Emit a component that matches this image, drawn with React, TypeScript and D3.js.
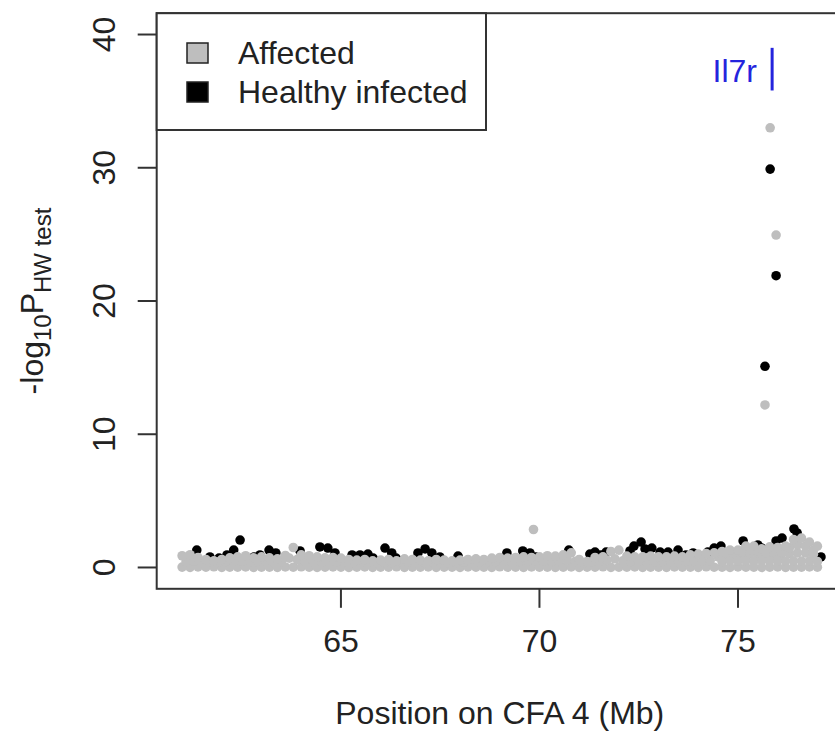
import React from 'react';
import * as d3 from 'd3';

const W = 835;
const H = 744;

// Axis definitions
const xDomain = [60.36, 77.64];
const yDomain = [-1.6, 41.6];
const xTicks = [65, 70, 75];
const yTicks = [0, 10, 20, 30, 40];
const xTitle = 'Position on CFA 4 (Mb)';
const legendLabels = ['Affected', 'Healthy infected'];
const geneLabel = 'Il7r';
const genePos = 75.86;
const geneSpan = [35.8, 39.0];

// Affected (grey) SNP positions and -log10 P values
const snpPos = [61.0,61.2,61.4,61.6,61.8,62.0,62.2,62.4,62.6,62.8,63.0,63.2,63.4,63.6,63.8,64.0,64.2,64.4,64.6,64.8,65.0,65.2,65.4,65.6,65.8,66.0,66.2,66.4,66.6,66.8,67.0,67.2,67.4,67.6,67.8,68.0,68.2,68.4,68.6,68.8,69.0,69.2,69.4,69.6,69.8,70.0,70.2,70.4,70.6,70.8,71.0,71.2,71.4,71.6,71.8,72.0,72.2,72.4,72.6,72.8,73.0,73.2,73.4,73.6,73.8,74.0,74.2,74.4,74.6,74.8,75.0,75.2,75.4,75.6,75.8,76.0,76.2,76.4,76.6,76.8,77.0];
const affectedTop = [0.88,0.96,0.75,0.6,0.5,0.6,0.72,0.8,0.88,0.72,0.8,0.72,0.65,0.9,1.5,0.95,0.88,0.8,0.72,0.75,0.7,0.6,0.55,0.6,0.5,0.55,0.6,0.5,0.65,0.6,0.55,0.5,0.6,0.55,0.5,0.55,0.6,0.65,0.6,0.7,0.75,0.7,0.75,0.8,0.75,0.8,0.88,0.85,0.95,1.1,0.6,0.45,0.75,0.8,1.2,1.3,0.85,0.8,0.8,0.85,0.8,0.8,0.85,0.8,0.95,1.0,1.05,1.1,1.2,1.3,1.3,1.6,1.6,1.4,1.55,1.5,1.6,2.1,2.2,1.9,1.6];
const affectedFloor = [0.03,0.01,0.04,0.02,0.05,0.01,0.03,0.02,0.04,0.01,0.02,0.03,0.01,0.04,0.02,0.05,0.03,0.01,0.02,0.04,0.03,0.01,0.02,0.04,0.01,0.03,0.02,0.05,0.01,0.03,0.02,0.04,0.01,0.03,0.02,0.01,0.04,0.02,0.03,0.01,0.05,0.02,0.03,0.01,0.04,0.02,0.03,0.01,0.02,0.04,0.01,0.03,0.02,0.05,0.01,0.03,0.02,0.04,0.01,0.02,0.03,0.01,0.04,0.02,0.03,0.01,0.05,0.02,0.03,0.01,0.04,0.02,0.03,0.01,0.02,0.04,0.01,0.03,0.02,0.04,0.02];
const snpPosMid = [61.1,61.3,61.5,61.7,61.9,62.1,62.3,62.5,62.7,62.9,63.1,63.3,63.5,63.7,63.9,64.1,64.3,64.5,64.7,64.9,65.1,65.3,65.5,65.7,65.9,66.1,66.3,66.5,66.7,66.9,67.1,67.3,67.5,67.7,67.9,68.1,68.3,68.5,68.7,68.9,69.1,69.3,69.5,69.7,69.9,70.1,70.3,70.5,70.7,70.9,71.1,71.3,71.5,71.7,71.9,72.1,72.3,72.5,72.7,72.9,73.1,73.3,73.5,73.7,73.9,74.1,74.3,74.5,74.7,74.9,75.1,75.3,75.5,75.7,75.9,76.1,76.3,76.5,76.7,76.9];
const affectedMid = [0.45,0.48,0.42,0.4,0.4,0.44,0.46,0.48,0.45,0.44,0.45,0.42,0.44,0.7,0.6,0.47,0.45,0.43,0.45,0.44,0.4,0.38,0.4,0.36,0.36,0.38,0.36,0.4,0.4,0.37,0.36,0.38,0.38,0.36,0.37,0.4,0.42,0.42,0.44,0.45,0.44,0.45,0.46,0.45,0.47,0.48,0.46,0.5,0.55,0.45,0.35,0.4,0.45,0.55,0.65,0.5,0.45,0.44,0.46,0.45,0.44,0.46,0.45,0.47,0.48,0.5,0.52,0.8,0.85,0.9,0.95,1.0,0.95,0.95,1.0,1.0,1.05,1.1,1.1,1.0];
const affectedLowerPos = [74.6,74.8,75.0,75.2,75.4,75.6,75.8,76.0,76.2,76.4,76.6,76.8,77.0];
const affectedLowerVal = [0.45,0.5,0.48,0.5,0.46,0.5,0.48,0.5,0.47,0.5,0.48,0.5,0.45];
const affectedUpperPos = [75.1,75.3,75.5,75.7,75.9,76.1,76.3,76.5,76.7,76.9];
const affectedUpperVal = [1.2,1.3,1.25,1.1,1.2,1.2,1.5,1.7,1.6,1.3];
const affectedHitPos = [69.85, 75.81, 75.96, 75.68];
const affectedHitVal = [2.85, 33.0, 24.95, 12.2];

// Healthy infected (black) SNPs that rise above the grey band
const healthyPos = [61.37,61.70,61.93,62.13,62.30,62.46,62.81,62.96,63.19,63.36,63.97,64.47,64.67,64.85,65.28,65.48,65.68,65.81,66.11,66.28,66.39,66.94,67.12,67.29,67.49,67.95,69.18,69.58,69.76,69.91,70.74,71.27,71.40,71.55,71.68,72.28,72.38,72.56,72.66,72.83,73.04,73.24,73.49,73.69,73.87,74.24,74.40,74.57,75.13,75.50,75.60,75.96,76.11,76.41,76.49,77.09,75.81,75.96,75.68];
const healthyVal = [1.31,0.79,0.71,0.94,1.31,2.06,0.79,0.94,1.31,1.09,1.24,1.54,1.46,1.09,0.94,0.94,1.01,0.71,1.46,1.09,0.71,1.09,1.39,1.09,0.79,0.86,1.09,1.24,1.09,0.79,1.31,1.01,1.16,0.94,1.16,1.24,1.61,1.91,1.39,1.46,1.16,1.16,1.31,0.94,1.09,1.16,1.46,1.61,1.99,1.69,1.46,1.99,2.21,2.89,2.59,0.79,29.9,21.9,15.1];

const FONT = '"Liberation Sans", Arial, Helvetica, sans-serif';
const GREY = '#bebebe';
const AXIS = '#333333';
const R = 4.8;

function zipPts(pos: number[], val: number[]) {
  return pos.map((p, i) => [p, val[i]] as [number, number]);
}

export default function App() {
  const x = d3.scaleLinear().domain(xDomain).range([156.7, 842.8]);
  const y = d3.scaleLinear().domain(yDomain).range([588.8, 13.2]);
  const [x0, x1] = x.range();
  const [yb, yt] = y.range();

  const healthy = zipPts(healthyPos, healthyVal);
  const affected = [
    ...zipPts(snpPos, affectedFloor),
    ...zipPts(snpPosMid, affectedMid),
    ...zipPts(affectedLowerPos, affectedLowerVal),
    ...zipPts(affectedUpperPos, affectedUpperVal),
    ...zipPts(snpPos, affectedTop),
    ...zipPts(affectedHitPos, affectedHitVal),
  ];

  const tickLen = 19;

  return (
    <svg width={W} height={H} style={{ position: 'absolute', left: 0, top: 0, background: '#fff' }}
      fontFamily={FONT}>
      <rect x={0} y={0} width={W} height={H} fill="#fff" />
      {/* points */}
      <g>
        {healthy.map(([p, v], i) => (
          <circle key={'h' + i} cx={x(p)} cy={y(v)} r={R} fill="#000" />
        ))}
        {affected.map(([p, v], i) => (
          <circle key={'a' + i} cx={x(p)} cy={y(v)} r={R} fill={GREY} />
        ))}
      </g>
      {/* plot box */}
      <rect x={x0} y={yt} width={x1 - x0} height={yb - yt} fill="none" stroke={AXIS} strokeWidth={2} />
      {/* y axis */}
      <g>
        {yTicks.map(t => (
          <g key={'yt' + t}>
            <line x1={x0 - tickLen} x2={x0} y1={y(t)} y2={y(t)} stroke={AXIS} strokeWidth={2} />
            <text transform={`translate(115,${y(t)}) rotate(-90)`} textAnchor="middle" fontSize={32} fill="#222">{t}</text>
          </g>
        ))}
      </g>
      {/* x axis */}
      <g>
        {xTicks.map(t => (
          <g key={'xt' + t}>
            <line x1={x(t)} x2={x(t)} y1={yb} y2={yb + tickLen} stroke={AXIS} strokeWidth={2} />
            <text x={x(t)} y={652} textAnchor="middle" fontSize={32} fill="#222">{t}</text>
          </g>
        ))}
      </g>
      <text x={(x0 + x1) / 2} y={724} textAnchor="middle" fontSize={32} fill="#222">{xTitle}</text>
      <text transform={`translate(43,${(yb + yt) / 2}) rotate(-90)`} textAnchor="middle" fontSize={32} fill="#222">
        -log<tspan fontSize={24} dy={8}>10</tspan><tspan dy={-8}>P</tspan><tspan fontSize={24} dy={8}>HW test</tspan>
      </text>
      {/* legend */}
      <rect x={x0} y={yt} width={486 - x0} height={130 - yt} fill="#fff" stroke={AXIS} strokeWidth={2} />
      <rect x={187} y={43} width={21} height={20} fill={GREY} stroke="#222" strokeWidth={1.5} />
      <rect x={187} y={82} width={21} height={20} fill="#000" stroke="#222" strokeWidth={1.5} />
      <text x={238} y={64} fontSize={32} fill="#222">{legendLabels[0]}</text>
      <text x={238} y={103} fontSize={32} fill="#222">{legendLabels[1]}</text>
      {/* gene annotation */}
      <text x={757} y={82} textAnchor="end" fontSize={32} fill="#2424dd">{geneLabel}</text>
      <line x1={x(genePos)} x2={x(genePos)} y1={y(geneSpan[0])} y2={y(geneSpan[1])} stroke="#2424dd" strokeWidth={3} />
    </svg>
  );
}
